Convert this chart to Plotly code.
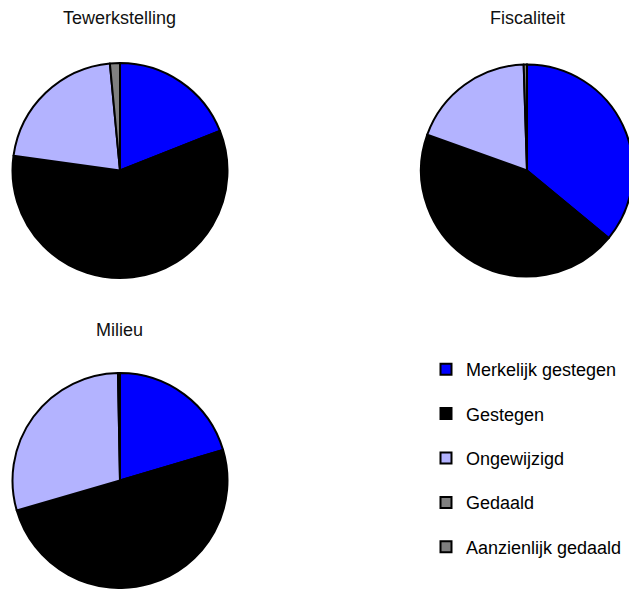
import plotly.graph_objects as go

labels = ["Merkelijk gestegen", "Gestegen", "Ongewijzigd", "Gedaald", "Aanzienlijk gedaald"]
colors = ["#0000ff", "#000000", "#b3b3ff", "#808080", "#7f7f7f"]

tewerkstelling = [19.0, 58.2, 21.3, 1.5, 0.0]
fiscaliteit = [36.0, 44.5, 19.0, 0.5, 0.0]
milieu = [20.4, 50.1, 29.2, 0.3, 0.0]

titles = ["Tewerkstelling", "Fiscaliteit", "Milieu"]

# page body has an 8px margin; figure size chosen so it fits the window
OFF = 8
W, H = 629, 581

def px_x(a, b):
    return [(a - OFF) / W, (b - OFF) / W]

def px_y(top, bottom):
    return [(H - (bottom - OFF)) / H, (H - (top - OFF)) / H]

domains = [
    dict(x=px_x(12, 228), y=px_y(63, 278)),
    dict(x=px_x(421, 633), y=px_y(63, 278)),
    dict(x=px_x(12, 228), y=px_y(373, 588)),
]
title_pos = [(120, 18), (527, 18), (120, 330)]

fig = go.Figure()
for vals, dom in zip([tewerkstelling, fiscaliteit, milieu], domains):
    fig.add_trace(go.Pie(
        labels=labels, values=vals, sort=False, direction="clockwise", rotation=0,
        marker=dict(colors=colors, line=dict(color="#000000", width=2)),
        textinfo="none", domain=dom, showlegend=False,
        hoverinfo="label+percent",
    ))

# legend entries
for i, (lab, col) in enumerate(zip(labels, colors)):
    fig.add_trace(go.Scatter(
        x=[None], y=[None], mode="markers", name=lab, legendgroup=f"g{i}",
        marker=dict(symbol="square", size=11, color=col, line=dict(color="#000000", width=2)),
        showlegend=True,
    ))

for t, (x, y) in zip(titles, title_pos):
    fig.add_annotation(text=t, x=(x - OFF) / W, y=(H - (y - OFF)) / H, xref="paper", yref="paper",
                       showarrow=False, xanchor="center", yanchor="middle",
                       font=dict(size=18, color="#111111", family="Liberation Sans, Arial, sans-serif"))

fig.update_layout(
    width=W, height=H,
    margin=dict(l=0, r=0, t=0, b=0),
    paper_bgcolor="white", plot_bgcolor="white",
    font=dict(family="Liberation Sans, Arial, sans-serif", size=18, color="#000000"),
    xaxis=dict(visible=False), yaxis=dict(visible=False),
    legend=dict(x=418 / W, y=(H - 343) / H, xanchor="left", yanchor="top",
                tracegroupgap=18, bgcolor="rgba(0,0,0,0)",
                font=dict(size=18, color="#000000")),
)

fig.write_html("out.html")
